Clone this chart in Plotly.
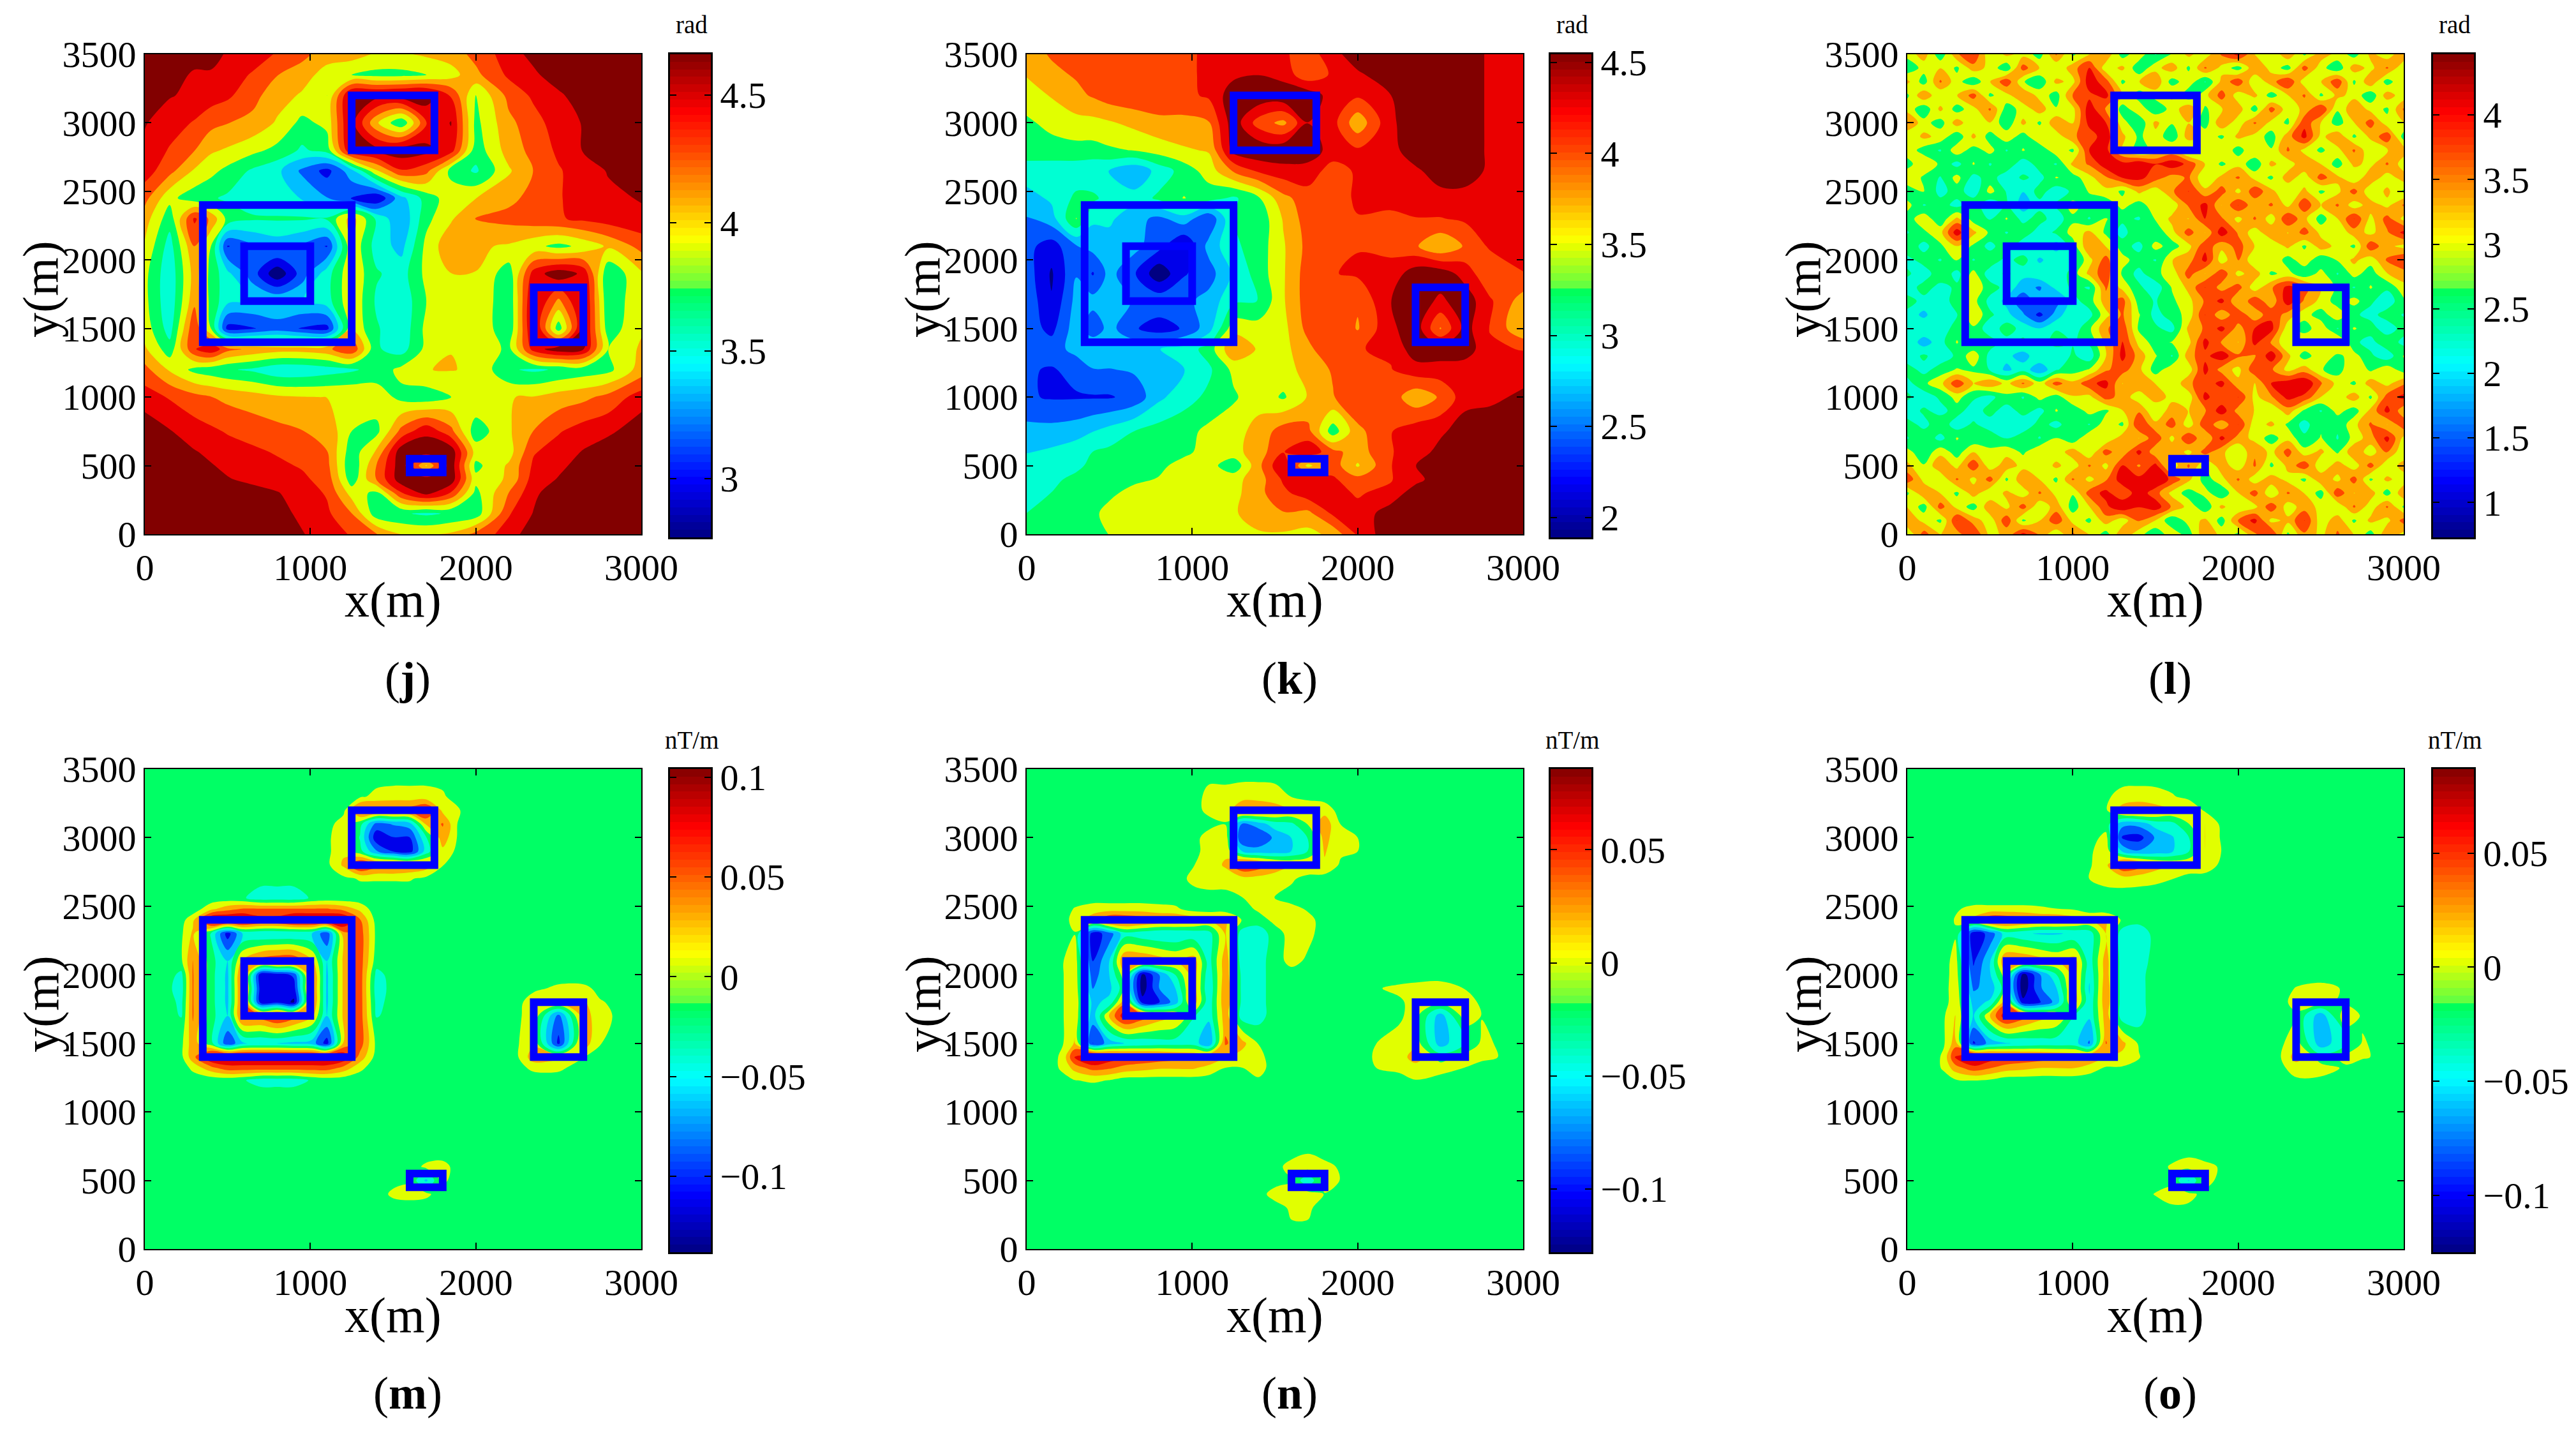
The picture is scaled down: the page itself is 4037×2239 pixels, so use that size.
import numpy as np
import plotly.graph_objects as go

W, H = 4037, 2239
FONT = "Liberation Serif"

CMAP = [
    [0, "rgb(0,0,130)"], [0.12, "rgb(0,0,255)"], [0.36, "rgb(0,255,255)"],
    [0.51, "rgb(0,255,90)"], [0.515, "rgb(90,255,70)"], [0.6, "rgb(225,255,0)"],
    [0.62, "rgb(255,255,0)"], [0.7, "rgb(255,170,0)"], [0.8, "rgb(255,70,0)"],
    [0.88, "rgb(255,0,0)"], [1, "rgb(130,0,0)"],
]

# anomaly outlines: x0, x1, y0, y1 (m)
BOXES = [
    (350, 1250, 1400, 2400), (600, 1000, 1700, 2100), (1250, 1750, 2800, 3200),
    (2350, 2650, 1400, 1800), (1600, 1800, 450, 550),
]

X_TOP = [0, 150, 300, 400, 500, 650, 800, 950, 1100, 1250, 1400, 1550, 1700, 1850, 2000, 2200, 2350, 2500, 2650, 2800, 3000]
Y_TOP = [3500, 3350, 3200, 3000, 2800, 2650, 2450, 2300, 2100, 1900, 1700, 1500, 1350, 1200, 1000, 750, 600, 500, 400, 300, 150, 0]

Z_J = [
    [4.6,4.6,4.6,4.6,4.45,4.4,4.3,4.2,4.05,4.05,3.95,3.95,4.0,4.05,4.2,4.4,4.55,4.6,4.6,4.6,4.6],
    [4.6,4.6,4.45,4.45,4.4,4.3,4.15,4.05,3.9,3.8,3.75,3.75,3.8,3.9,4.1,4.35,4.45,4.6,4.6,4.6,4.6],
    [4.6,4.5,4.45,4.4,4.35,4.2,4.05,3.95,3.8,4.55,4.55,4.6,4.6,4.3,3.8,4.2,4.35,4.45,4.6,4.6,4.6],
    [4.5,4.4,4.3,4.2,4.15,4.1,3.95,3.75,3.85,4.55,4.0,3.65,4.3,4.5,3.75,4.1,4.25,4.4,4.5,4.6,4.6],
    [4.45,4.3,4.15,4.0,3.95,3.85,3.75,3.6,3.7,4.5,4.55,4.6,4.55,4.4,3.7,4.05,4.2,4.35,4.5,4.55,4.6],
    [4.4,4.2,3.95,3.85,3.75,3.6,3.5,3.25,3.05,3.4,3.95,4.3,4.2,3.75,3.6,3.95,4.15,4.3,4.4,4.5,4.55],
    [4.2,3.85,3.7,3.65,3.6,3.55,3.5,3.45,3.3,3.1,2.95,3.4,3.7,3.9,3.97,4.1,4.2,4.3,4.4,4.45,4.5],
    [4.05,3.7,4.35,4.1,3.75,3.65,3.65,3.65,3.65,4.05,3.6,3.3,3.75,3.95,4.15,4.2,4.25,4.3,4.35,4.4,4.45],
    [3.95,3.55,4.15,3.8,3.1,3.25,3.35,3.25,3.1,3.95,3.55,3.4,3.85,4.1,4.0,3.95,3.85,3.75,3.85,4.0,4.2],
    [3.85,3.5,4.05,3.75,3.5,3.2,2.8,3.2,3.55,3.95,3.65,3.55,3.85,3.97,3.97,3.7,4.4,4.6,4.45,3.65,3.95],
    [3.85,3.5,4.1,3.75,3.5,3.45,3.45,3.45,3.55,3.95,3.6,3.5,3.8,3.97,3.97,3.65,4.55,4.1,4.55,3.65,3.95],
    [3.9,3.55,4.3,3.8,3.05,3.1,3.2,3.1,3.05,3.95,3.65,3.5,3.85,3.97,3.97,3.65,4.55,3.7,4.55,3.7,3.95],
    [4.0,3.7,4.3,4.45,4.2,4.1,4.05,4.05,4.1,4.3,3.65,3.55,3.85,3.97,3.97,3.75,4.4,4.6,4.5,3.8,4.0],
    [4.2,3.95,3.75,3.7,3.65,3.6,3.5,3.5,3.55,3.6,3.7,3.85,3.97,3.98,3.95,3.65,3.6,3.65,3.7,3.75,4.05],
    [4.4,4.3,4.2,4.15,4.1,4.05,4.0,3.98,3.97,3.97,3.9,3.75,3.7,3.8,3.95,3.97,3.98,4.05,4.1,4.2,4.4],
    [4.6,4.5,4.4,4.35,4.3,4.25,4.2,4.15,4.1,3.8,3.75,4.2,4.45,4.2,3.7,3.95,4.15,4.3,4.4,4.45,4.6],
    [4.6,4.6,4.5,4.45,4.4,4.35,4.3,4.25,4.15,3.7,4.0,4.6,4.6,4.6,3.9,3.9,4.3,4.4,4.5,4.6,4.6],
    [4.6,4.6,4.6,4.5,4.45,4.4,4.35,4.3,4.2,3.65,4.15,4.6,3.95,4.6,3.75,4.0,4.35,4.45,4.55,4.6,4.6],
    [4.6,4.6,4.6,4.6,4.5,4.45,4.4,4.35,4.25,3.7,4.15,4.6,4.6,4.6,3.85,4.0,4.4,4.5,4.6,4.6,4.6],
    [4.6,4.6,4.6,4.6,4.6,4.55,4.5,4.4,4.3,3.9,3.75,4.3,4.55,4.3,3.75,4.15,4.45,4.6,4.6,4.6,4.6],
    [4.6,4.6,4.6,4.6,4.6,4.6,4.55,4.45,4.35,4.15,3.7,3.65,3.6,3.65,3.7,4.3,4.5,4.6,4.6,4.6,4.6],
    [4.6,4.6,4.6,4.6,4.6,4.6,4.6,4.5,4.4,4.3,4.15,3.97,3.95,4.0,4.2,4.4,4.6,4.6,4.6,4.6,4.6],
]

Z_K = [
    [3.7,3.85,3.95,4.0,4.0,4.02,4.02,4.02,4.1,4.2,4.2,4.1,3.95,4.2,4.48,4.48,4.48,4.48,4.48,4.25,4.2],
    [3.6,3.75,3.85,3.95,4.0,4.02,4.02,4.02,4.1,4.25,4.3,4.2,3.9,4.1,4.25,4.48,4.48,4.48,4.48,4.25,4.2],
    [3.45,3.6,3.75,3.85,3.95,4.0,4.0,4.0,4.1,4.45,4.5,4.5,4.45,4.2,4.1,4.3,4.48,4.48,4.48,4.25,4.2],
    [3.3,3.4,3.5,3.5,3.55,3.65,3.75,3.75,3.8,4.45,3.95,3.75,4.3,4.15,3.65,4.25,4.48,4.48,4.48,4.25,4.2],
    [3.2,3.25,3.25,3.25,3.3,3.35,3.45,3.55,3.6,4.4,4.5,4.5,4.45,4.2,4.1,4.2,4.48,4.48,4.48,4.25,4.2],
    [3.0,2.95,2.95,2.9,2.85,2.65,2.95,3.2,3.45,3.85,4.1,4.2,4.2,3.95,4.1,4.2,4.25,4.45,4.45,4.25,4.2],
    [2.75,2.9,3.15,3.15,3.0,2.95,3.15,3.35,3.2,3.05,3.3,3.75,3.95,3.95,4.1,4.15,4.2,4.2,4.2,4.2,4.2],
    [2.6,2.75,3.35,2.9,2.9,2.7,2.55,2.75,2.4,3.1,3.15,3.6,3.95,4.05,4.05,4.0,4.05,4.05,4.1,4.2,4.2],
    [2.45,2.25,2.6,2.7,2.75,2.7,2.45,2.1,2.7,3.05,3.2,3.55,3.9,4.05,4.05,4.0,3.85,3.6,3.85,4.1,4.2],
    [2.5,2.1,2.6,2.35,2.7,2.4,1.95,2.35,2.5,2.9,3.2,3.55,3.95,4.05,4.1,4.15,4.45,4.45,4.2,3.85,4.05],
    [2.55,2.15,2.7,2.7,2.7,2.6,2.55,2.55,2.7,3.05,3.1,3.55,3.95,4.05,3.85,4.3,4.45,4.25,4.45,4.1,3.7],
    [2.5,2.3,2.75,2.45,2.7,2.4,2.25,2.4,2.75,3.5,3.45,3.5,3.9,4.05,3.8,4.25,4.45,3.8,4.4,4.05,3.6],
    [2.5,2.5,2.7,2.85,2.85,2.8,2.85,2.95,3.2,3.8,3.55,3.5,3.75,4.05,4.05,4.1,4.45,4.45,4.45,4.1,4.05],
    [2.4,2.35,2.45,2.6,2.6,2.65,2.7,2.85,3.05,3.4,3.55,3.5,3.65,3.85,4.05,4.05,4.2,4.2,4.15,4.2,4.2],
    [2.4,2.35,2.35,2.35,2.35,2.45,2.8,3.0,3.15,3.3,3.5,3.3,3.6,3.8,4.05,3.95,3.65,3.85,4.2,4.25,4.35],
    [2.7,2.7,2.75,2.85,2.95,3.1,3.2,3.25,3.4,3.5,3.65,3.95,3.9,3.2,3.75,4.05,4.2,4.25,4.45,4.45,4.5],
    [2.85,2.9,3.0,3.1,3.15,3.2,3.25,3.3,3.4,3.5,3.7,4.05,4.25,3.9,3.7,4.05,4.15,4.4,4.5,4.5,4.5],
    [2.9,2.95,3.05,3.15,3.2,3.2,3.3,3.4,3.45,3.15,3.75,4.3,3.5,3.95,3.55,4.05,4.3,4.48,4.5,4.5,4.5],
    [3.0,3.05,3.15,3.2,3.25,3.3,3.35,3.45,3.5,3.5,3.7,4.1,4.3,4.1,3.9,4.05,4.2,4.48,4.5,4.5,4.5],
    [3.0,3.1,3.2,3.25,3.3,3.4,3.45,3.5,3.5,3.5,3.75,4.0,4.2,4.1,4.05,4.1,4.48,4.5,4.5,4.5,4.5],
    [3.1,3.2,3.2,3.3,3.4,3.45,3.5,3.5,3.5,3.55,3.7,3.8,3.75,4.1,4.1,4.48,4.5,4.5,4.5,4.5,4.5],
    [3.15,3.2,3.2,3.2,3.35,3.45,3.5,3.5,3.5,3.5,3.55,3.55,3.5,3.65,4.1,4.48,4.48,4.5,4.5,4.5,4.5],
]

# phase panel (l) read on a 100 m mesh, top row first
Z_L = [
    [2.9,3.3,2.5,3.4,3.8,2.8,3.2,3.0,2.6,3.5,2.7,3.1,3.4,2.6,3.0,2.4,2.8,3.2,2.9,3.5,3.9,3.1,2.8,3.4,2.7,3.3,3.0,2.6,3.2,2.9,3.4],
    [2.5,2.9,3.1,2.7,3.3,3.0,2.5,3.6,3.1,2.8,3.3,3.8,2.9,3.2,2.5,3.0,3.3,2.7,3.5,3.0,2.6,3.4,3.0,2.6,3.6,2.9,2.5,3.3,3.0,3.5,2.8],
    [3.2,2.6,3.5,2.9,2.5,3.1,3.7,2.8,2.5,3.2,3.0,4.0,3.6,2.7,3.1,3.4,2.6,3.0,2.4,3.2,3.7,2.8,3.3,3.8,2.9,3.1,3.7,2.7,3.4,2.6,3.1],
    [2.7,3.4,2.8,3.1,3.6,2.7,3.0,3.4,3.0,2.6,3.5,3.7,3.9,3.1,2.6,2.9,3.2,2.5,3.0,3.6,2.9,3.2,2.6,3.1,3.5,2.7,3.2,3.0,2.5,3.3,2.9],
    [3.0,2.5,3.2,2.6,3.0,3.5,2.6,2.9,3.3,2.8,3.0,4.0,3.4,2.6,3.0,2.5,2.9,3.4,2.7,3.1,3.3,2.6,3.6,2.9,3.2,3.8,2.8,3.4,3.0,2.7,3.5],
    [3.5,2.9,2.6,3.3,2.8,3.1,2.5,3.2,2.7,3.4,3.1,3.9,3.8,2.9,2.5,3.2,2.8,3.1,2.6,3.4,2.9,3.5,3.0,2.7,3.7,3.1,2.6,3.1,3.6,2.9,3.1],
    [2.8,3.2,3.0,2.5,3.2,2.6,3.0,2.6,3.1,2.9,3.4,3.6,4.0,3.2,2.7,3.0,2.5,3.3,3.0,2.7,3.2,3.0,2.6,3.3,3.9,3.0,3.4,2.7,3.2,3.7,2.6],
    [3.0,2.6,2.4,3.0,2.6,2.9,2.4,2.8,2.5,3.0,2.7,3.8,3.9,3.1,2.6,2.9,3.2,2.6,2.9,3.1,2.6,3.1,2.8,3.5,3.0,2.7,3.0,3.5,2.8,3.1,3.3],
    [2.6,3.1,2.7,2.3,2.8,2.4,2.7,2.2,2.6,2.4,3.2,3.5,4.0,3.9,4.1,3.8,4.0,3.7,3.1,2.7,3.0,2.5,3.2,2.9,3.4,3.1,2.6,3.2,3.0,3.5,2.9],
    [3.1,2.7,2.4,2.9,2.3,2.6,2.2,2.5,2.3,2.8,2.6,3.0,3.4,3.8,3.9,3.6,3.3,3.5,2.8,3.2,3.5,3.0,2.7,3.3,2.9,3.6,3.2,2.8,3.4,2.9,3.3],
    [2.5,2.8,2.3,2.6,2.2,2.9,2.4,2.1,2.6,2.2,2.5,2.8,3.0,2.7,3.2,2.9,3.4,3.8,3.2,3.6,3.0,3.7,3.2,2.8,3.2,2.7,3.0,3.6,2.8,3.2,2.7],
    [2.9,2.4,2.6,2.3,2.7,2.1,2.5,1.9,2.3,2.5,2.9,2.6,2.5,2.9,2.6,3.0,2.9,3.5,3.9,3.1,3.8,3.2,3.5,3.0,3.7,3.1,3.5,2.9,3.3,3.0,3.5],
    [2.6,3.0,2.5,3.2,2.6,2.4,2.8,2.3,2.6,2.2,2.7,2.4,2.8,2.5,2.4,2.8,3.2,3.1,3.8,3.5,3.0,3.5,2.9,3.8,3.2,2.6,3.1,3.8,3.0,3.6,3.0],
    [2.4,2.7,3.0,4.0,3.2,2.7,2.4,2.7,2.2,2.5,2.9,3.2,2.7,2.3,2.7,2.5,3.0,3.6,3.1,4.0,3.4,2.9,3.4,3.1,3.6,3.0,2.8,3.3,3.0,3.4,3.9],
    [2.7,2.3,2.7,3.1,2.7,2.3,2.7,2.1,2.5,1.9,2.6,3.4,3.1,2.6,2.3,2.9,2.6,3.0,3.7,3.2,3.6,3.1,2.8,3.2,2.7,3.3,3.0,2.7,3.7,3.2,3.0],
    [2.3,2.6,2.4,2.8,2.4,2.7,2.3,2.6,2.0,2.4,2.3,3.0,3.6,2.9,2.6,2.4,3.1,3.3,3.9,2.9,3.5,2.8,3.1,2.6,3.0,2.5,2.8,3.2,2.9,3.5,3.8],
    [2.5,2.2,2.7,2.3,2.9,2.2,2.5,2.2,2.4,2.1,2.6,3.2,3.7,2.7,2.3,2.7,2.9,3.6,3.1,3.7,3.0,3.3,2.7,2.9,2.5,2.9,2.4,2.9,2.6,3.1,3.3],
    [2.2,2.6,2.3,2.5,3.0,2.6,2.3,1.9,1.7,2.2,2.5,2.4,3.5,3.0,2.5,2.2,2.8,3.2,3.8,3.3,3.6,2.9,3.4,3.9,3.6,3.1,2.7,2.4,2.8,2.5,3.0],
    [2.6,2.3,2.1,2.7,2.9,2.3,2.0,1.5,1.9,1.6,2.3,2.6,3.3,3.6,2.6,2.4,2.7,3.0,3.5,3.9,3.1,3.7,3.2,4.0,3.4,3.0,2.6,2.9,2.5,2.2,2.7],
    [2.3,2.0,2.4,2.4,3.1,2.5,2.2,1.8,1.3,1.9,2.4,2.3,3.0,3.5,2.8,2.3,2.6,2.9,3.8,3.2,3.7,3.2,3.7,3.3,2.9,2.6,3.0,2.5,2.3,2.6,2.4],
    [2.1,2.4,2.2,2.6,2.7,2.2,2.6,2.3,2.1,2.4,2.2,2.7,3.4,3.7,2.7,2.5,2.3,3.2,3.5,3.9,3.3,3.8,3.9,2.9,2.6,3.0,2.4,2.8,2.6,2.2,2.6],
    [2.4,1.9,2.3,2.8,2.4,2.6,2.3,2.5,2.2,2.6,2.4,2.5,3.2,3.8,3.0,2.6,2.8,3.0,3.9,3.4,3.1,3.9,3.4,2.8,3.1,2.7,3.2,2.5,2.3,2.7,2.3],
    [2.2,2.5,2.2,2.5,3.0,2.3,2.2,1.9,2.4,2.1,2.5,2.2,3.1,3.9,3.3,2.8,2.4,3.3,3.7,4.0,3.5,3.4,4.0,3.2,2.6,3.0,2.7,2.9,2.5,2.2,2.8],
    [2.6,2.3,2.6,2.8,2.7,2.4,2.0,2.3,1.8,2.4,2.6,2.8,3.4,3.6,3.2,2.6,3.0,2.9,3.9,3.3,3.0,3.7,3.5,3.0,3.3,2.8,2.6,3.1,2.7,3.0,2.6],
    [2.3,2.7,3.0,3.7,3.1,3.4,3.0,3.5,2.9,3.6,3.2,3.7,3.9,3.1,3.4,3.1,2.8,3.4,3.6,3.9,3.2,3.1,3.8,4.0,4.1,3.5,3.0,2.7,3.3,3.0,3.4],
    [2.5,2.2,2.5,2.9,2.5,2.3,2.7,2.4,2.9,2.6,3.1,3.0,3.6,3.3,2.9,3.3,3.0,2.9,3.9,3.5,3.8,3.0,3.4,3.9,3.7,3.1,2.9,3.3,2.7,3.6,3.9],
    [2.2,2.5,2.3,2.6,2.2,2.6,2.2,2.6,2.3,2.8,2.5,2.9,2.7,3.1,3.4,2.8,3.3,3.1,3.4,4.0,3.3,3.1,2.8,3.3,2.7,2.4,2.9,2.6,3.2,3.9,3.2],
    [2.6,2.3,2.7,2.2,2.5,2.2,2.4,2.1,2.6,2.3,2.7,2.4,3.0,2.7,3.8,3.2,3.6,2.9,3.7,3.2,3.8,2.9,3.2,2.7,2.3,2.7,2.5,3.0,3.5,3.1,3.7],
    [2.4,2.7,2.3,2.8,2.5,2.7,2.4,2.7,2.4,2.8,2.5,3.1,2.8,3.3,3.1,3.7,3.0,3.8,3.1,3.9,3.3,3.0,2.6,3.0,2.5,2.8,2.4,2.9,3.3,3.9,3.0],
    [2.9,2.5,3.0,2.6,3.1,2.8,3.0,2.7,3.1,2.9,3.3,2.8,3.6,3.2,3.9,3.2,3.4,3.0,3.6,3.2,2.8,3.4,3.0,3.6,2.9,3.2,2.7,3.4,2.9,3.5,2.8],
    [3.2,2.8,3.4,3.0,3.7,2.9,3.3,3.0,2.8,3.2,2.9,3.5,3.0,3.8,3.4,3.9,2.9,3.5,2.8,3.3,2.9,3.5,2.7,3.2,3.7,2.8,3.3,2.9,3.6,2.8,3.3],
    [3.7,3.0,2.8,3.5,3.0,3.6,2.7,3.4,3.1,2.7,3.5,3.0,3.4,4.0,3.9,4.1,3.7,3.2,2.6,3.0,3.5,2.9,3.3,3.0,2.7,3.4,3.0,3.6,2.7,3.2,2.9],
    [2.7,3.4,3.1,2.7,3.3,2.8,3.2,2.9,3.5,3.0,2.8,3.6,3.9,3.5,4.0,3.6,3.0,2.6,2.9,2.5,3.1,3.6,2.8,3.5,3.1,2.6,3.7,3.1,3.3,2.6,3.4],
    [3.1,2.6,3.6,3.0,2.6,3.4,3.0,3.6,2.8,3.3,2.6,3.1,3.7,4.1,3.8,4.0,3.4,3.0,2.5,3.2,2.8,3.0,3.7,2.9,3.3,3.0,2.8,3.5,2.9,3.5,2.7],
    [3.4,3.0,2.7,3.8,3.3,2.9,3.7,2.7,3.1,3.7,3.0,2.7,3.3,2.9,3.5,3.1,2.5,2.9,3.2,2.6,3.5,3.9,3.0,3.2,3.8,2.9,3.3,2.7,3.2,3.0,3.6],
    [2.8,3.6,3.1,3.3,3.8,3.0,3.2,3.9,3.4,2.8,3.5,3.1,2.6,3.4,2.9,2.5,3.0,2.6,3.4,3.0,2.7,3.4,3.8,2.7,3.4,3.0,3.5,3.1,2.6,3.4,3.0],
]

X_LOW = [0, 150, 220, 290, 400, 500, 590, 700, 800, 900, 1010, 1100, 1200, 1300, 1400, 1500, 1600, 1700, 1800, 1900, 2250, 2350, 2500, 2650, 2750, 3000]
Y_LOW = [3500, 3300, 3200, 3100, 3000, 2900, 2800, 2700, 2560, 2480, 2400, 2300, 2100, 2000, 1900, 1800, 1700, 1500, 1400, 1320, 1230, 1150, 700, 600, 500, 400, 300, 0]

# flat background level of the gradient panels
g = -0.02

Z_M = [
    [g]*26,
    [g]*13+[-.01,0,.003,.003,.003,-.002]+[g]*7,
    [g]*12+[-.012,.05,.05,.05,.05,.065,.01,-.005]+[g]*6,
    [g]*11+[-.015,.005,-.02,-.08,-.07,-.06,.02,.04,-.012]+[g]*6,
    [g]*11+[-.012,.012,-.03,-.11,-.095,-.095,-.03,.03,-.012]+[g]*6,
    [g]*11+[-.012,.012,-.02,-.07,-.095,-.105,-.04,.01,-.014]+[g]*6,
    [g]*11+[-.012,.02,.07,.05,.05,.04,.03,-.005]+[g]*7,
    [g]*12+[-.012,-.004,-.004,-.004,-.004,-.012]+[g]*8,
    [g]*6+[-.025,-.04,-.04,-.04,-.025]+[g]*15,
    [g]*4+[.01,.03,.04,.04,.04,.04,.04,.04,.03,.01]+[g]*12,
    [g]*2+[-.015,.01,.09,.09,.09,.07,.07,.09,.09,.09,.09,.04,-.015]+[g]*11,
    [g]*2+[-.01,.02,-.03,-.105,-.05,-.05,-.05,-.05,-.05,-.09,.03,.05,-.012]+[g]*11,
    [g]*2+[-.01,.04,-.02,-.05,.02,.05,.06,.06,.02,-.05,.02,.05,-.018]+[g]*11,
    [g]*2+[-.035,.04,-.02,-.055,.05,-.11,-.105,-.09,.05,-.055,.02,.05,-.035]+[g]*11,
    [g]*1+[-.025,-.04,.04,-.02,-.055,.05,-.105,-.11,-.105,.05,-.055,.02,.05,-.04]+[g]*6+[-.012,0,0,-.012,g],
    [g]*2+[-.035,.04,-.02,-.055,.05,-.105,-.1,-.12,.05,-.055,.02,.05,-.035]+[g]*5+[-.015,.01,.02,.02,-.004,g],
    [g]*2+[-.03,.04,-.02,-.05,.05,.05,.07,.05,.02,-.05,.02,.05,-.03]+[g]*5+[-.012,.01,-.08,.03,0,g],
    [g]*2+[-.012,.03,-.02,-.09,-.055,-.05,-.05,-.055,-.06,-.105,.02,.05,-.012]+[g]*5+[-.008,.01,-.1,.03,-.005,g],
    [g]*2+[-.012,.03,.085,.09,.09,.09,.09,.09,.09,.09,.08,.03,-.015]+[g]*5+[-.009,.03,.02,-.005,g,g],
    [g]*3+[0,.03,.05,.05,.05,.05,.05,.05,.05,.03,0]+[g]*6+[-.015,0,0,g,g,g],
    [g]*6+[-.025,-.04,-.04,-.04,-.025]+[g]*15,
    [g]*26,
    [g]*26,
    [g]*17+[0,.005]+[g]*7,
    [g]*15+[-.015,-.01,-.055,0]+[g]*7,
    [g]*15+[0,.005,0]+[g]*8,
    [g]*26,
    [g]*26,
]

Z_N = [
    [g]*26,
    [g]*11+[-.005,-.005,-.002,-.002,-.004,-.012]+[g]*9,
    [g]*11+[-.005,-.008,.03,.03,.02,.01,.01,0]+[g]*7,
    [g]*12+[-.012,-.07,-.06,-.04,-.035,-.01,.02,-.012]+[g]*6,
    [g]*11+[0,0,-.09,-.09,-.065,-.05,-.03,.015,-.008]+[g]*6,
    [g]*11+[0,.005,-.05,-.06,-.06,-.05,-.03,.01,-.008]+[g]*6,
    [g]*10+[-.012,0,.01,.05,.04,.02,.01,.01,.005,-.015]+[g]*6,
    [g]*10+[-.006,0,0,0,0,-.002,-.008]+[g]*9,
    [g]*13+[-.012,-.006,-.012]+[g]*10,
    [g]*3+[-.01,-.002,-.002,-.002,-.002,-.005,-.008]+[g]*4+[-.008,-.004,-.004,-.014]+[g]*8,
    [g]*2+[-.015,-.008,.02,.05,.05,.04,.03,.03,.02,.01,.01,-.012,g,-.006,-.004,-.005]+[g]*8,
    [g]*3+[-.012,-.1,-.08,-.04,-.045,-.05,-.05,-.045,-.04,.01,-.04,-.045,g,-.004,-.006]+[g]*8,
    [g]*2+[-.012,0,-.09,-.05,.03,.03,.02,.01,.02,-.04,.02,-.04,-.04,g,-.005,-.015]+[g]*8,
    [g]*2+[-.012,0,-.08,-.05,0,-.115,-.07,-.03,.02,-.045,.02,-.035,-.04]+[g]*11,
    [g]*2+[-.012,0,-.07,-.055,-.02,-.12,-.07,-.05,.02,-.05,.025,-.035,-.04]+[g]*5+[-.008,-.005,-.002,-.012,g,g],
    [g]*2+[-.012,0,-.055,-.045,.02,-.1,-.09,-.06,.02,-.045,.025,-.035,-.04]+[g]*5+[-.014,-.006,-.004,-.005,-.014,g],
    [g]*2+[-.012,0,-.06,.01,.06,.04,.02,.01,-.03,-.045,.02,-.04,-.04]+[g]*5+[-.014,-.005,-.06,0,-.012,g],
    [g]*2+[-.012,.01,-.09,-.06,-.05,-.045,-.04,-.04,-.04,-.07,.03,.015,-.012]+[g]*5+[-.006,0,-.06,-.03,-.008,g],
    [g]*2+[-.005,.05,.08,.06,.05,.045,.04,.035,.03,.03,.01,0,-.006]+[g]*5+[-.004,.02,-.02,-.003,-.006,g],
    [g]*2+[-.006,.015,.035,.03,.02,.015,.01,.01,.01,0,-.012,-.012,-.004]+[g]*5+[-.006,-.002,-.002,-.012,g,g],
    [g]*3+[-.012,-.009,-.012]+[g]*8+[-.014]+[g]*6+[-.012]+[g]*4,
    [g]*26,
    [g]*17+[-.012]+[g]*8,
    [g]*16+[-.002,-.002,-.004,-.015]+[g]*6,
    [g]*16+[-.015,-.045,-.006,-.012]+[g]*6,
    [g]*15+[-.003,-.002,-.003,-.012]+[g]*7,
    [g]*16+[-.008,-.008]+[g]*8,
    [g]*26,
]

Z_O = [
    [g]*26,
    [g]*12+[-.012,-.004,-.003,-.004,-.008,-.014]+[g]*8,
    [g]*12+[-.012,.02,.03,.02,.01,.005,-.012]+[g]*7,
    [g]*13+[-.06,-.06,-.04,-.035,-.01,.01,-.014]+[g]*6,
    [g]*12+[-.002,-.09,-.095,-.065,-.05,-.03,.01,-.012]+[g]*6,
    [g]*11+[-.013,.002,-.05,-.065,-.06,-.05,-.03,.01,-.01]+[g]*6,
    [g]*11+[-.012,.005,.05,.04,.02,.01,.01,.005,-.015]+[g]*6,
    [g]*11+[-.009,-.002,0,-.002,-.005,-.009]+[g]*9,
    [g]*26,
    [g]*3+[-.012,-.004,-.004,-.004,-.004,-.006,-.009,-.012]+[g]*15,
    [g]*3+[-.008,.015,.05,.05,.04,.03,.03,.02,.01,.01,-.012]+[g]*12,
    [g]*3+[-.012,-.1,-.08,-.04,-.045,-.05,-.05,-.045,-.04,.01,-.04,-.045]+[g]*11,
    [g]*3+[0,-.09,-.05,.03,.03,.02,.01,.02,-.04,.02,-.04,-.04]+[g]*11,
    [g]*3+[.002,-.08,-.05,0,-.115,-.07,-.03,.02,-.045,.02,-.04,-.04,-.012]+[g]*10,
    [g]*3+[.005,-.07,-.06,-.02,-.12,-.07,-.05,.02,-.05,.025,-.04,-.04,-.012]+[g]*5+[-.008,-.002,-.012]+[g]*2,
    [g]*3+[.005,-.055,-.045,.02,-.1,-.09,-.06,.02,-.045,.025,-.04,-.04,-.012]+[g]*4+[-.014,-.005,-.004,-.014,g,g],
    [g]*2+[-.012,.01,-.05,.01,.06,.04,.02,.01,-.03,-.045,.02,-.04,-.04,-.012]+[g]*4+[g,-.012,-.06,.005,-.012,g],
    [g]*2+[-.012,.02,-.09,-.06,-.05,-.045,-.04,-.04,-.04,-.07,.03,.015,-.012]+[g]*5+[-.013,0,-.06,-.03,-.008,g],
    [g]*2+[-.005,.05,.08,.06,.05,.045,.04,.035,.03,.03,.01,.005,-.008]+[g]*5+[-.012,.02,-.02,-.004,-.007,g],
    [g]*2+[-.006,.02,.04,.03,.02,.015,.01,.01,.01,0,-.012,-.012]+[g]*6+[-.014,-.002,-.002,-.012,g,g],
    [g]*3+[-.012,-.009,-.012]+[g]*15+[-.012,-.013]+[g]*3,
    [g]*26,
    [g]*17+[-.013]+[g]*8,
    [g]*16+[-.006,-.002,-.003,-.012]+[g]*6,
    [g]*16+[-.015,-.05,-.004,-.014]+[g]*6,
    [g]*15+[-.008,-.002,-.005,-.014]+[g]*7,
    [g]*16+[-.012,-.012]+[g]*8,
    [g]*26,
]

X_L = list(range(0, 3001, 100))
Y_L = list(range(3500, -1, -100))

Z_RANGE = [(2.77, 4.66), (1.89, 4.545), (0.73, 4.47), (-0.138, 0.104), (-0.128, 0.0857), (-0.125, 0.0868)]
CB_TICKS = [
    [3, 3.5, 4, 4.5], [2, 2.5, 3, 3.5, 4, 4.5], [1, 1.5, 2, 2.5, 3, 3.5, 4],
    [-0.1, -0.05, 0, 0.05, 0.1], [-0.1, -0.05, 0, 0.05], [-0.1, -0.05, 0, 0.05],
]
UNITS = ["rad", "rad", "rad", "nT/m", "nT/m", "nT/m"]
LETTERS = ["j", "k", "l", "m", "n", "o"]
GRIDS = [(X_TOP, Y_TOP, Z_J), (X_TOP, Y_TOP, Z_K), (X_L, Y_L, Z_L),
         (X_LOW, Y_LOW, Z_M), (X_LOW, Y_LOW, Z_N), (X_LOW, Y_LOW, Z_O)]

PLOT_LEFT = [227, 1609, 2989]
PLOT_TOP = [85, 1205]
CB_LEFT = [1050, 2430, 3813]
PLOT_W, PLOT_H = 778, 752
CB_W, CB_H = 64, 757
LABEL_X = [639, 2021, 3401]
N_BANDS = 11


def dom_x(left, w):
    return [left / W, (left + w) / W]


def dom_y(top, h):
    return [1 - (top + h) / H, 1 - top / H]


def axis_style(**kw):
    style = dict(
        ticks="inside", ticklen=10, tickwidth=2, tickcolor="black",
        showline=True, linecolor="black", linewidth=2, mirror="ticks",
        showgrid=False, zeroline=False,
        tickfont=dict(family=FONT, size=58, color="black"),
    )
    style.update(kw)
    return style


fig = go.Figure()
layout = {}
annotations = []
shapes = []

for i, (xs, ys, z) in enumerate(GRIDS):
    for n, row in enumerate(z):
        assert len(row) == len(xs), (LETTERS[i], n, len(row))
    assert len(z) == len(ys), (LETTERS[i], len(z))

    col, row_idx = i % 3, i // 3
    zmin, zmax = Z_RANGE[i]
    step = (zmax - zmin) / N_BANDS
    ax, cb = 2 * i + 1, 2 * i + 2

    fig.add_trace(go.Contour(
        x=xs, y=ys[::-1], z=z[::-1], xaxis=f"x{ax}", yaxis=f"y{ax}",
        colorscale=CMAP, zmin=zmin, zmax=zmax, showscale=False,
        contours=dict(coloring="fill", start=zmin + step, end=zmax - step + step / 2, size=step, showlines=False),
        line=dict(width=0, smoothing=1.0), hoverinfo="skip",
    ))

    # colour bar drawn on its own little axes
    edges = np.linspace(zmin, zmax, 65)
    mids = (edges[:-1] + edges[1:]) / 2
    fig.add_trace(go.Heatmap(
        x=[0, 1], y=edges, z=[[m] for m in mids], xaxis=f"x{cb}", yaxis=f"y{cb}",
        colorscale=CMAP, zmin=zmin, zmax=zmax, showscale=False, hoverinfo="skip",
    ))

    top = PLOT_TOP[row_idx]
    layout[f"xaxis{ax}"] = axis_style(
        domain=dom_x(PLOT_LEFT[col], PLOT_W), range=[0, 3000], anchor=f"y{ax}",
        tickvals=[0, 1000, 2000, 3000],
    )
    layout[f"yaxis{ax}"] = axis_style(
        domain=dom_y(top, PLOT_H), range=[0, 3500], anchor=f"x{ax}",
        tickvals=list(range(0, 3501, 500)),
    )
    layout[f"xaxis{cb}"] = dict(
        domain=dom_x(CB_LEFT[col], CB_W), range=[0, 1], anchor=f"y{cb}", showticklabels=False,
        ticks="", showline=True, linecolor="black", linewidth=3, mirror=True, showgrid=False, zeroline=False,
    )
    layout[f"yaxis{cb}"] = axis_style(
        domain=dom_y(top, CB_H), range=[zmin, zmax], anchor=f"x{cb}", side="right",
        tickvals=CB_TICKS[i], ticktext=[f"{t:g}".replace("-", "\u2212") for t in CB_TICKS[i]],
        linewidth=3,
    )

    for x0, x1, y0, y1 in BOXES:
        shapes.append(dict(
            type="rect", xref=f"x{ax}", yref=f"y{ax}", x0=x0, x1=x1, y0=y0, y1=y1,
            line=dict(color="rgb(0,0,255)", width=12),
        ))

    left = PLOT_LEFT[col]
    annotations += [
        dict(text="x(m)", x=(left + PLOT_W / 2) / W, y=1 - (top + 855) / H, font_size=78),
        dict(text="y(m)", x=(left - 163) / W, y=1 - (top + PLOT_H / 2 - 8) / H, font_size=78, textangle=-90),
        dict(text=f"(<b>{LETTERS[i]}</b>)", x=LABEL_X[col] / W, y=1 - (top + 978) / H, font_size=72),
        dict(text=UNITS[i], x=(CB_LEFT[col] + CB_W / 2 + 2) / W, y=1 - (top - 46) / H, font_size=39),
    ]

for a in annotations:
    size = a.pop("font_size")
    a.update(xref="paper", yref="paper", showarrow=False, xanchor="center", yanchor="middle",
             font=dict(family=FONT, size=size, color="black"))

fig.update_layout(
    width=W, height=H, margin=dict(l=0, r=0, t=0, b=0, autoexpand=False),
    paper_bgcolor="white", plot_bgcolor="white", showlegend=False,
    annotations=annotations, shapes=shapes, **layout,
)
fig.write_html("out.html", post_script="document.body.style.margin='0';", config=dict(displayModeBar=False))
